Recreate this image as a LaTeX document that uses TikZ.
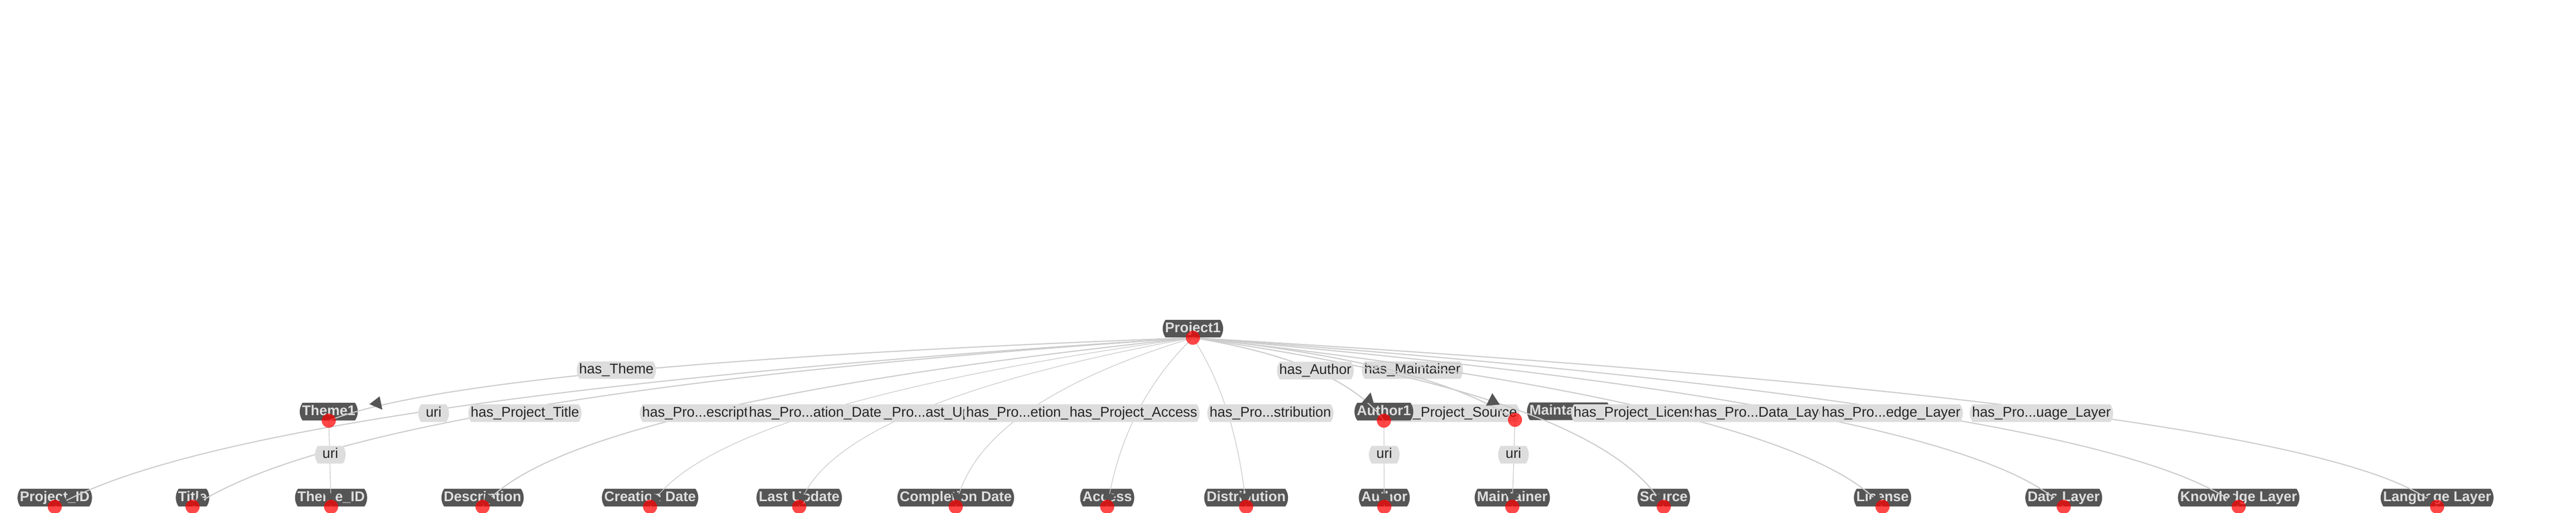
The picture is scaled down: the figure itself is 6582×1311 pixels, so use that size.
\documentclass[tikz,border=0pt]{standalone}
\usepackage{fontspec}
\setmainfont{Liberation Sans}
\usetikzlibrary{calc,arrows.meta,shapes.misc,decorations.markings}

\definecolor{nodegray}{HTML}{555555}
\definecolor{labelgray}{HTML}{DDDDDD}
\definecolor{edgegray}{HTML}{CCCCCC}
\definecolor{lighttext}{HTML}{DEDEDE}
\definecolor{darktext}{HTML}{262626}

\tikzset{
    entity/.style={rounded rectangle, rounded rectangle arc length=70,
        fill=nodegray, text=lighttext,
        font=\fontsize{10.24pt}{12pt}\selectfont\bfseries,
        minimum height=0.45cm, inner xsep=0.02cm, inner ysep=0pt,
        text height=0.27cm, text depth=0.08cm},
    relation/.style={entity, fill=labelgray, text=darktext,
        font=\fontsize{10.24pt}{12pt}\selectfont},
    reddot/.style={circle, fill=red, fill opacity=0.72,
        minimum size=0.36cm, inner sep=0pt},
    link/.style={draw=edgegray, line width=0.8pt},
    endtip/.style={postaction={decorate}, decoration={markings,
        mark=at position -0.04cm with
        {\arrow{Triangle[length=0.3cm,width=0.34cm,color=nodegray]}}}},
}

\begin{document}
\begin{tikzpicture}[x=0.01cm, y=-0.01cm]
    \useasboundingbox (0,0) rectangle (6582,1311);

    % labels lying under the connectors
    \node[relation, anchor=east] (l-source) at (3883,1056) {has\_Project\_Source};
    \node[relation, anchor=west] (l-maint1) at (3479,946) {has\_Maintainer};

    % entities
    \node[entity] (proj) at (3048,840) {Project1};
    \node[entity] (theme) at (840,1052) {Theme1};
    \node[entity] (author1) at (3536,1052) {Author1};
    \node[entity, anchor=west] (maint1) at (3901,1051) {Maintainer1};
    \foreach \nm/\x/\txt in {projid/140/Project\_ID, title/492/Title,
        themeid/846/Theme\_ID, desc/1233/Description,
        created/1661/Creation Date, updated/2042/Last Update,
        completed/2442/Completion Date, access/2829/Access,
        distrib/3184/Distribution, author/3537/Author,
        maintainer/3864/Maintainer, source/4251/Source,
        license/4810/License, datalayer/5273/Data Layer,
        knowlayer/5720/Knowledge Layer, langlayer/6227/Language Layer}
    {
        \node[entity] (\nm) at (\x,1272) {\txt};
    }

    % dot positions
    \foreach \nm in {proj,theme,author1,projid,title,themeid,desc,created,
        updated,completed,access,distrib,author,maintainer,source,license,
        datalayer,knowlayer,langlayer}
    {
        \coordinate (\nm-d) at (\nm.south);
    }
    \coordinate (maint1-d) at (3871,1073);

    % connectors from Project1 (the curve runs through the given point halfway)
    \foreach \nm/\vx/\vy in {theme/1575/950, author1/3360/947, maint1/3557/947}
    {
        \coordinate (bend) at ($($(proj-d)!0.5!(\nm-d)$)!2!(\vx,\vy)$);
        \draw[link] (proj-d) .. controls ($(proj-d)!2/3!(bend)$)
            and ($(\nm-d)!2/3!(bend)$) .. (\nm-d);
    }
    \foreach \nm/\vx/\vy/\lw in {projid/1108/1048/0.8, title/1343/1043/0.8,
        desc/1790/1056/0.8, created/2085/1056/0.5, updated/2333/1056/0.5,
        completed/2619/1056/0.5, access/2905/1056/0.5, distrib/3137/1056/0.5,
        source/3870/1045/0.8, license/4260/1056/0.8, datalayer/4590/1056/0.8,
        knowlayer/4893/1056/0.8, langlayer/5300/1058/0.8}
    {
        \coordinate (bend) at ($($(proj-d)!0.5!(\nm-d)$)!2!(\vx,\vy)$);
        \draw[link, endtip, line width=\lw pt] (proj-d)
            .. controls ($(proj-d)!2/3!(bend)$) and ($(\nm-d)!2/3!(bend)$) .. (\nm-d);
    }
    % uri connectors
    \draw[link, endtip, line width=0.5pt] (theme-d) -- (themeid-d);
    \draw[link, endtip, line width=0.5pt] (author1-d) -- (author-d);
    \draw[link, endtip, line width=0.5pt] (maint1-d) -- (maintainer-d);

    % arrow heads of the inner entities
    \fill[nodegray] (944,1033) -- (970,1013) -- (977,1047) -- cycle;
    \fill[nodegray] (3502,1003) -- (3479,1030) -- (3510,1030) -- cycle;
    \fill[nodegray] (3813,1005) -- (3797,1037) -- (3832,1034) -- cycle;

    % relation labels
    \node[relation, anchor=west] (l-theme) at (1473,946) {has\_Theme};
    \node[relation] (l-projid) at (1108,1056) {uri};
    \node[relation, anchor=west] (l-title) at (1196,1056) {has\_Project\_Title};
    \node[relation] (l-themeid) at (844,1162) {uri};
    \node[relation, anchor=west] (l-desc) at (1634,1056) {has\_Pro...escription};
    \node[relation, anchor=west] (l-updated) at (2194,1056) {has\_Pro...ast\_Update};
    \node[relation, anchor=west] (l-created) at (1907,1056) {has\_Pro...ation\_Date};
    \node[relation, anchor=west] (l-completed) at (2462,1056) {has\_Pro...etion\_Date};
    \node[relation, anchor=west] (l-access) at (2726,1056) {has\_Project\_Access};
    \node[relation, anchor=west] (l-distrib) at (3084,1056) {has\_Pro...stribution};
    \node[relation, anchor=west] (l-author1) at (3262,947) {has\_Author};
    \node[relation] (l-author) at (3537,1162) {uri};
    \node[relation] (l-maintainer) at (3867,1162) {uri};
    \node[relation, anchor=west] (l-license) at (4014,1056) {has\_Project\_License};
    \node[relation, anchor=west] (l-datalayer) at (4322,1056) {has\_Pro...Data\_Layer};
    \node[relation, anchor=west] (l-knowlayer) at (4648,1056) {has\_Pro...edge\_Layer};
    \node[relation, anchor=west] (l-langlayer) at (5032,1056) {has\_Pro...uage\_Layer};

    % red dots
    \foreach \nm in {proj,theme,author1,maint1,projid,title,themeid,desc,
        created,updated,completed,access,distrib,author,maintainer,source,
        license,datalayer,knowlayer,langlayer}
    {
        \node[reddot] (\nm-dot) at (\nm-d) {};
    }
\end{tikzpicture}
\end{document}
